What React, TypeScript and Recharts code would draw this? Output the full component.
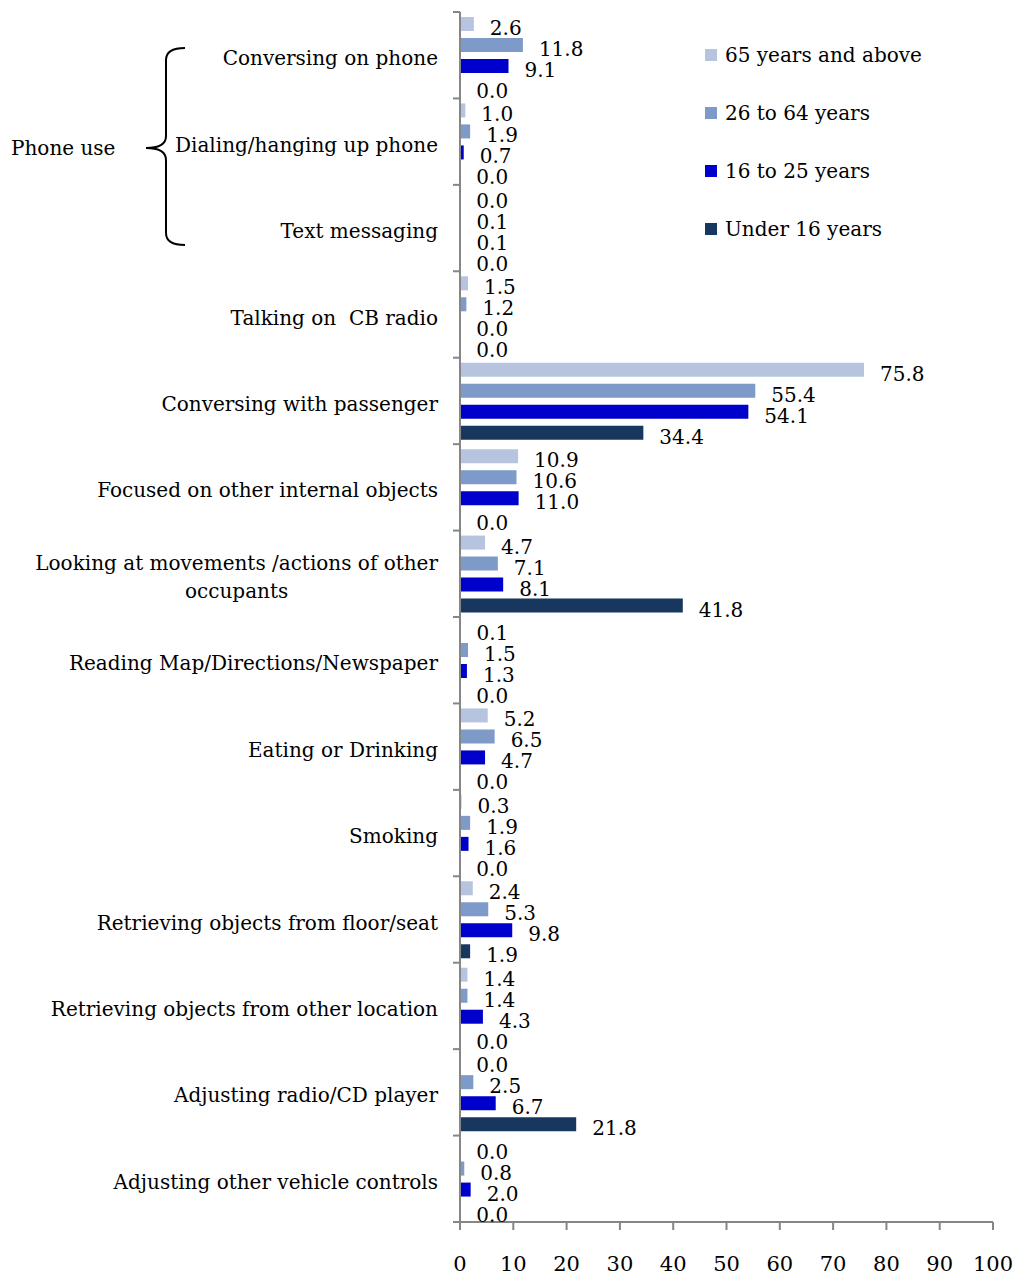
import React from "react";
import { BarChart, Bar, XAxis, YAxis, LabelList } from "recharts";

const categories = [
  "Conversing on phone",
  "Dialing/hanging up phone",
  "Text messaging",
  "Talking on\u00a0 CB radio",
  "Conversing with passenger",
  "Focused on other internal objects",
  "Looking at movements /actions of other|occupants",
  "Reading Map/Directions/Newspaper",
  "Eating or Drinking",
  "Smoking",
  "Retrieving objects from floor/seat",
  "Retrieving objects from other location",
  "Adjusting radio/CD player",
  "Adjusting other vehicle controls",
];

const age65plus = [2.6, 1.0, 0.0, 1.5, 75.8, 10.9, 4.7, 0.1, 5.2, 0.3, 2.4, 1.4, 0.0, 0.0];
const age26to64 = [11.8, 1.9, 0.1, 1.2, 55.4, 10.6, 7.1, 1.5, 6.5, 1.9, 5.3, 1.4, 2.5, 0.8];
const age16to25 = [9.1, 0.7, 0.1, 0.0, 54.1, 11.0, 8.1, 1.3, 4.7, 1.6, 9.8, 4.3, 6.7, 2.0];
const under16 = [0.0, 0.0, 0.0, 0.0, 34.4, 0.0, 41.8, 0.0, 0.0, 0.0, 1.9, 0.0, 21.8, 0.0];

const xTicks = [0, 10, 20, 30, 40, 50, 60, 70, 80, 90, 100];

const series = [
  { key: "s65", name: "65 years and above", color: "#b7c4df", values: age65plus },
  { key: "s26", name: "26 to 64 years", color: "#7d9ac8", values: age26to64 },
  { key: "s16", name: "16 to 25 years", color: "#0000cc", values: age16to25 },
  { key: "u16", name: "Under 16 years", color: "#17375e", values: under16 },
];

const data = categories.map((name, i) => {
  const row: any = { name };
  series.forEach((s) => (row[s.key] = s.values[i]));
  return row;
});

const FONT = "DejaVu Serif";
const FS = 20;
const TOP = 12;
const BOTTOM = 1222;
const AXIS_X = 460;
const BAND = (BOTTOM - TOP) / categories.length;
const AXIS_COLOR = "#868686";

function measure(text: string) {
  const c = document.createElement("canvas").getContext("2d");
  if (!c) return text.length * 10;
  c.font = `${FS}px "${FONT}"`;
  return c.measureText(text).width;
}

function CategoryTick(props: any) {
  const { y, payload, index } = props;
  const lines = String(payload.value).split("|");
  const right = AXIS_X - 22;
  const marks = [y - BAND / 2];
  if (index === categories.length - 1) marks.push(y + BAND / 2);
  return (
    <g>
      {marks.map((m, k) => (
        <line key={k} x1={AXIS_X - 7} x2={AXIS_X} y1={m} y2={m} stroke={AXIS_COLOR} strokeWidth={2} />
      ))}
      {lines.length === 1 ? (
        <text x={right} y={y + 3} textAnchor="end" dominantBaseline="central" fontFamily={FONT} fontSize={FS} fill="#000">
          {lines[0]}
        </text>
      ) : (
        (() => {
          const cx = right - measure(lines[0]) / 2;
          return lines.map((ln, k) => (
            <text key={k} x={cx} y={y - 11 + k * 28} textAnchor="middle" dominantBaseline="central" fontFamily={FONT} fontSize={FS} fill="#000">
              {ln}
            </text>
          ));
        })()
      )}
    </g>
  );
}

function ValueLabel(props: any) {
  const { x, y, width, height, value } = props;
  return (
    <text x={Number(x) + Number(width) + 16} y={Number(y) + Number(height) / 2 + 4} dominantBaseline="central" fontFamily={FONT} fontSize={FS} fill="#000">
      {Number(value).toFixed(1)}
    </text>
  );
}

function LegendBox() {
  return (
    <div style={{ position: "absolute", left: 705, top: 26 }}>
      {series.map((s) => (
        <div key={s.key} style={{ display: "flex", alignItems: "center", height: 58 }}>
          <span style={{ width: 12, height: 12, background: s.color, display: "inline-block", marginRight: 8 }} />
          <span style={{ fontFamily: FONT, fontSize: FS, color: "#000", lineHeight: "28px" }}>{s.name}</span>
        </div>
      ))}
    </div>
  );
}

export default function App() {
  return (
    <div style={{ position: "absolute", left: 0, top: 0, width: 1016, height: 1275, background: "#fff" }}>
      <BarChart
        width={1016}
        height={1275}
        data={data}
        layout="vertical"
        margin={{ top: TOP, right: 23, bottom: 0, left: 0 }}
        barCategoryGap={5}
        barGap={7}
      >
        <XAxis
          type="number"
          domain={[0, 100]}
          ticks={xTicks}
          interval={0}
          height={1275 - BOTTOM}
          tickSize={8}
          tickMargin={26}
          axisLine={{ stroke: AXIS_COLOR, strokeWidth: 2 }}
          tickLine={{ stroke: AXIS_COLOR, strokeWidth: 2 }}
          tick={{ fontFamily: FONT, fontSize: 21, fill: "#000" }}
        />
        <YAxis
          type="category"
          dataKey="name"
          width={AXIS_X}
          interval={0}
          tickLine={false}
          axisLine={{ stroke: AXIS_COLOR, strokeWidth: 2 }}
          tick={<CategoryTick />}
        />
        {series.map((s) => (
          <Bar key={s.key} dataKey={s.key} name={s.name} fill={s.color} barSize={14} minPointSize={0.3} isAnimationActive={false}>
            <LabelList dataKey={s.key} content={<ValueLabel />} />
          </Bar>
        ))}
      </BarChart>
      <svg style={{ position: "absolute", left: 0, top: 0 }} width={300} height={300}>
        <path
          d="M185 48 Q166 48 166 60 L166 136 Q166 148 146 148 Q166 148 166 160 L166 233 Q166 245 185 245"
          fill="none"
          stroke="#000"
          strokeWidth={2}
        />
        <text x={11} y={148} dominantBaseline="central" fontFamily={FONT} fontSize={FS} fill="#000">
          Phone use
        </text>
      </svg>
      <LegendBox />
    </div>
  );
}
